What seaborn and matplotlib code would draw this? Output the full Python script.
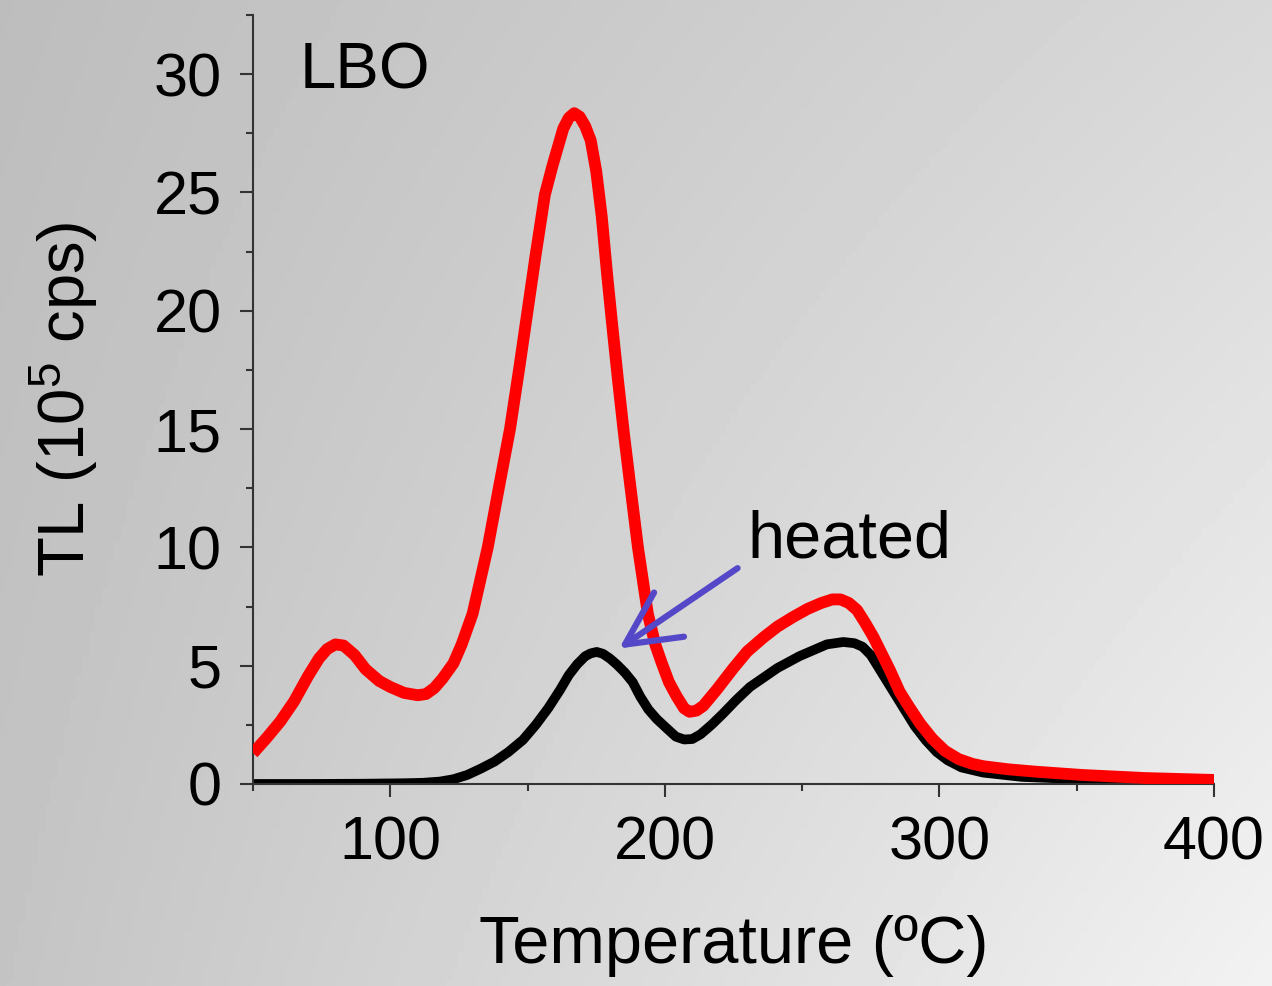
import numpy as np
import pandas as pd
import matplotlib
matplotlib.use("Agg")
import matplotlib.pyplot as plt
from matplotlib.ticker import MultipleLocator
import seaborn as sns

# TL glow curves (temperature in C, TL in 1e5 cps)
red_temp = [50, 55, 60, 65, 70, 74, 77, 80, 83, 87, 91, 96, 100, 105, 110,
            113, 116, 119, 123, 126, 130, 135.5, 140, 143.6, 147, 150, 153,
            156.3, 159, 161, 163, 165, 167, 169, 171, 173, 175, 177, 179, 181,
            182.9, 185, 187.2, 190.2, 193.8, 196.5, 198.9, 201.5, 204.3, 207,
            209, 211.5, 214, 219, 225, 230, 236, 241, 246.6, 252, 257, 261,
            264, 267, 270, 273, 276, 279, 282, 285.5, 289, 293, 297.5, 302,
            307, 312, 316, 325, 335, 352, 375, 400]
red_tl = [1.3, 1.95, 2.65, 3.5, 4.55, 5.3, 5.7, 5.9, 5.85, 5.45, 4.85, 4.35,
          4.1, 3.85, 3.75, 3.8, 4.05, 4.45, 5.1, 5.9, 7.2, 10.0, 12.8, 15.0,
          17.6, 20.0, 22.4, 24.9, 26.1, 26.9, 27.7, 28.15, 28.35, 28.2, 27.8,
          27.2, 25.9, 24.0, 21.5, 19.2, 17.1, 14.9, 12.8, 10.0, 7.2, 5.9, 5.1,
          4.3, 3.7, 3.2, 3.05, 3.1, 3.3, 4.0, 4.9, 5.6, 6.2, 6.65, 7.05, 7.4,
          7.65, 7.8, 7.8, 7.65, 7.35, 6.8, 6.2, 5.5, 4.8, 3.9, 3.25, 2.55,
          1.9, 1.4, 1.05, 0.85, 0.75, 0.62, 0.52, 0.38, 0.25, 0.17]

black_temp = [50, 70, 90, 105, 112, 118, 123, 128, 133, 138, 143, 148.3, 153,
              157.5, 161.8, 165, 168, 171, 173, 175.2, 177.5, 180, 182.5,
              185.5, 188.3, 191, 194, 197, 200.7, 204, 207, 210, 213, 217, 221,
              226, 231, 236, 241, 249, 254, 259, 265, 269, 272, 275, 279, 283,
              287, 291, 295, 299, 303, 308, 316, 330, 352, 375, 400]
black_tl = [0.0, 0.0, 0.01, 0.03, 0.05, 0.1, 0.2, 0.38, 0.65, 0.95, 1.35, 1.86,
            2.5, 3.2, 3.97, 4.6, 5.05, 5.4, 5.52, 5.58, 5.5, 5.3, 5.05, 4.7,
            4.3, 3.7, 3.15, 2.75, 2.35, 2.0, 1.88, 1.9, 2.1, 2.5, 2.95, 3.55,
            4.1, 4.5, 4.9, 5.4, 5.65, 5.9, 6.0, 5.95, 5.8, 5.45, 4.7, 3.95, 3.2,
            2.45, 1.85, 1.35, 1.0, 0.7, 0.48, 0.3, 0.2, 0.12, 0.08]

sample_label = "LBO"
arrow_label = "heated"

sns.set_theme(style="ticks")
plt.rcParams["font.family"] = ["Liberation Sans", "DejaVu Sans"]
plt.rcParams["mathtext.fontset"] = "custom"
plt.rcParams["mathtext.rm"] = "Liberation Sans"
plt.rcParams["mathtext.default"] = "rm"
plt.rcParams["text.color"] = "black"

fig = plt.figure(figsize=(12.72, 9.86), dpi=100)

# gray gradient backdrop (darker left, lighter lower right)
bg = fig.add_axes([0, 0, 1, 1], zorder=-1)
GX, GY = np.meshgrid(np.linspace(0, 1, 200), np.linspace(0, 1, 200))
tl_, tr_, bl_, br_ = 189, 216, 196, 242
grad = (tl_ * (1 - GX) * (1 - GY) + tr_ * GX * (1 - GY)
        + bl_ * (1 - GX) * GY + br_ * GX * GY) / 255.0
bg.imshow(grad, cmap="gray", vmin=0, vmax=1, aspect="auto",
          extent=[0, 1, 0, 1], origin="upper")
bg.axis("off")

ax = fig.add_axes([0.1989, 0.2049, 0.7555, 0.7799])
ax.set_facecolor("none")

red_df = pd.DataFrame({"Temperature": red_temp, "TL": red_tl})
black_df = pd.DataFrame({"Temperature": black_temp, "TL": black_tl})

sns.lineplot(data=red_df, x="Temperature", y="TL", ax=ax, color="#ff0000",
             lw=8.5, estimator=None, solid_capstyle="butt",
             solid_joinstyle="round", zorder=3)
sns.lineplot(data=black_df, x="Temperature", y="TL", ax=ax, color="black",
             lw=7, estimator=None, solid_capstyle="butt",
             solid_joinstyle="round", zorder=2)

ax.set_xlim(50, 400)
ax.set_ylim(0, 32.5)
ax.xaxis.set_major_locator(MultipleLocator(100))
ax.xaxis.set_minor_locator(MultipleLocator(50))
ax.yaxis.set_major_locator(MultipleLocator(5))
ax.yaxis.set_minor_locator(MultipleLocator(2.5))

for side in ["top", "right"]:
    ax.spines[side].set_visible(False)
for side in ["left", "bottom"]:
    ax.spines[side].set_color("#333333")
    ax.spines[side].set_linewidth(1.5)

ax.tick_params(which="major", direction="out", length=9.5, width=1.5,
               color="#333333", labelsize=44, pad=13, labelcolor="black")
ax.tick_params(which="minor", direction="out", length=5, width=1.5,
               color="#333333")

ax.set_xlabel("Temperature (ºC)", fontsize=48, labelpad=31, color="black")
ax.set_ylabel("TL (10$^5$ cps)", fontsize=47, labelpad=38, color="black")

ax.text(67, 30.1, sample_label, fontsize=47, va="center", ha="left",
        color="black")

ax.annotate(arrow_label, xy=(182.5, 5.66), xytext=(230.2, 10.3),
            fontsize=48, va="center", ha="left", color="black",
            arrowprops=dict(arrowstyle="->, head_length=0.8, head_width=0.4",
                            color="#5548c8", lw=4.5, shrinkA=0,
                            relpos=(-0.05, 0.05)))

fig.savefig("out.png", dpi=100)
